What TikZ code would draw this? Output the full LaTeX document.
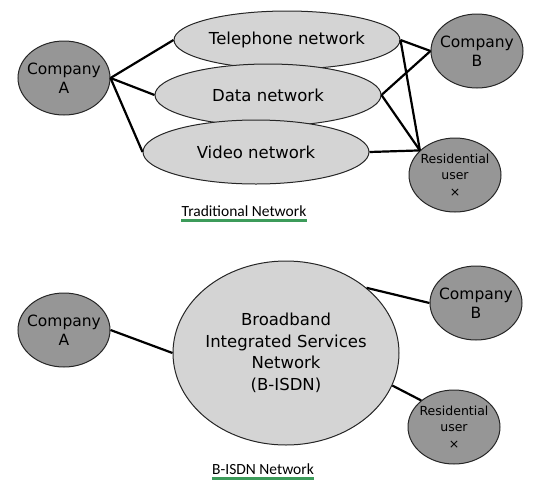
\documentclass[tikz,border=0pt]{standalone}
\usepackage{fontspec}
\usetikzlibrary{shapes.geometric}
\newfontfamily\nodefont{DejaVu Sans}
\newfontfamily\capfont{Carlito}
\definecolor{lightfill}{RGB}{212,212,212}
\definecolor{darkfill}{RGB}{150,150,150}
\definecolor{uline}{RGB}{60,155,90}
\begin{document}
\begin{tikzpicture}[x=1pt,y=-1pt,
  net/.style={ellipse,draw=black!85,line width=1pt,fill=lightfill,inner sep=0pt},
  nettext/.style={inner sep=0pt,align=center,font=\nodefont\fontsize{16.5}{21.5}\selectfont},
  comp/.style={ellipse,draw=black!85,line width=1pt,fill=darkfill,inner sep=0pt,minimum width=92pt,minimum height=74pt},
  comptext/.style={inner sep=0pt,align=center,font=\nodefont\fontsize{15.5}{19.5}\selectfont},
  restext/.style={inner sep=0pt,align=center,font=\nodefont\fontsize{12.5}{16.5}\selectfont},
  link/.style={line width=2.2pt,black},
  captext/.style={font=\capfont\fontsize{15.5}{17}\selectfont,inner sep=0pt},
  under/.style={uline,line width=2.8pt}]
\useasboundingbox (0,0) rectangle (544,491);
% top: traditional network
\node[net,minimum width=226pt,minimum height=58pt] (tel) at (287,40) {};
\node[nettext] (telt) at (tel) {Telephone network};
\node[net,minimum width=226pt,minimum height=62pt] (data) at (268,95) {};
\node[nettext] (datat) at (data) {Data network};
\node[net,minimum width=226pt,minimum height=64pt] (video) at (256,152) {};
\node[nettext] (videot) at (video) {Video network};
\node[comp] (ca) at (64,78) {};
\node[comptext] (cat) at (ca) {Company\\A};
\node[comp] (cb) at (477,51) {};
\node[comptext] (cbt) at (cb) {Company\\B};
\node[comp] (ru) at (455,175) {};
\node[restext] (rut) at (ru) {Residential\\user\\×};
\draw[link] (ca.east) -- (tel.west);
\draw[link] (ca.east) -- (data.west);
\draw[link] (ca.east) -- (video.west);
\draw[link] (tel.east) -- (cb.west);
\draw[link] (tel.east) -- (ru.145);
\draw[link] (data.east) -- (cb.west);
\draw[link] (data.east) -- (ru.145);
\draw[link] (video.east) -- (ru.145);
\node[captext] (t1) at (244,211) {Traditional Network};
\draw[under] ([yshift=-4pt]t1.south west) coordinate (u1a) -- ([yshift=-4pt]t1.south east) coordinate (u1b);
% bottom: B-ISDN
\node[net,minimum width=226pt,minimum height=184pt] (bisdn) at (286,353) {};
\node[nettext] (bisdnt) at (bisdn) {Broadband\\Integrated Services\\Network\\(B-ISDN)};
\node[comp] (ca2) at (64,330) {};
\node[comptext] (ca2t) at (ca2) {Company\\A};
\node[comp] (cb2) at (476,303) {};
\node[comptext] (cb2t) at (cb2) {Company\\B};
\node[comp] (ru2) at (454,427) {};
\node[restext] (ru2t) at (ru2) {Residential\\user\\×};
\draw[link] (ca2.east) -- (bisdn.west);
\draw[link] (bisdn.39) -- (cb2.west);
\draw[link] (bisdn.-17) -- (ru2.141);
\node[captext] (t2) at (263,469) {B-ISDN Network};
\draw[under] ([yshift=-4pt]t2.south west) coordinate (u2a) -- ([yshift=-4pt]t2.south east) coordinate (u2b);
\end{tikzpicture}
\end{document}
